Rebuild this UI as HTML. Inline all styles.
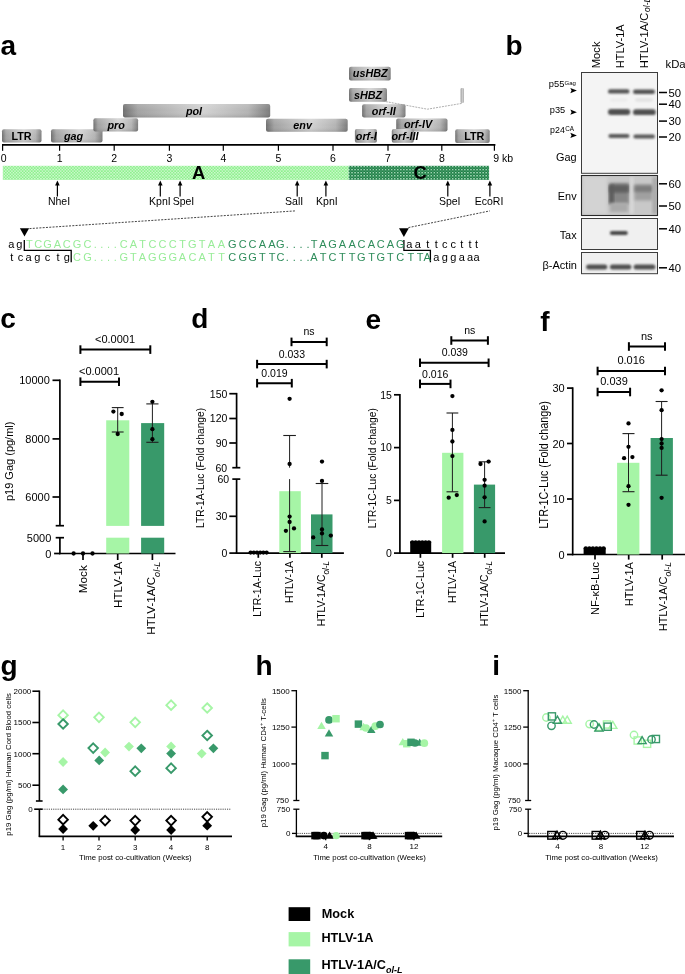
<!DOCTYPE html><html><head><meta charset="utf-8"><style>html,body{margin:0;padding:0;background:#fff;}svg{display:block;will-change:transform;}text{font-family:"Liberation Sans",sans-serif;}</style></head><body>
<svg width="685" height="974" viewBox="0 0 685 974">
<defs>
<linearGradient id="gb" x1="0" y1="0" x2="1" y2="0">
<stop offset="0" stop-color="#6f6f6f"/><stop offset="0.1" stop-color="#a2a2a2"/><stop offset="0.55" stop-color="#d2d2d2"/><stop offset="0.85" stop-color="#b4b4b4"/><stop offset="1" stop-color="#7c7c7c"/>
</linearGradient>
<linearGradient id="gv" x1="0" y1="0" x2="0" y2="1">
<stop offset="0" stop-color="#fff" stop-opacity="0.15"/><stop offset="0.5" stop-color="#fff" stop-opacity="0"/><stop offset="1" stop-color="#000" stop-opacity="0.12"/>
</linearGradient>
<pattern id="plg" width="3.05" height="3.05" patternUnits="userSpaceOnUse" x="0.5" y="165.8">
<rect width="3.05" height="3.05" fill="#8ef08e"/><rect x="0" y="0" width="1.525" height="1.525" fill="#cdf9cd"/><rect x="1.525" y="1.525" width="1.525" height="1.525" fill="#c2f7c2"/>
</pattern>
<pattern id="pdg" width="3.05" height="3.05" patternUnits="userSpaceOnUse" x="0.5" y="165.8">
<rect width="3.05" height="3.05" fill="#1f8046"/><rect x="0" y="0" width="1.525" height="1.525" fill="#9ed3b2"/><rect x="1.525" y="1.525" width="1.525" height="1.525" fill="#3f9463"/>
</pattern>
<filter id="bl" x="-20%" y="-80%" width="140%" height="260%"><feGaussianBlur stdDeviation="0.85"/></filter>
<filter id="bl2" x="-20%" y="-50%" width="140%" height="200%"><feGaussianBlur stdDeviation="1.6"/></filter>
</defs>
<text x="0.6" y="55" font-size="28" font-weight="bold">a</text>
<text x="505.5" y="54.5" font-size="28" font-weight="bold">b</text>
<text x="0.3" y="328.2" font-size="28" font-weight="bold">c</text>
<text x="191.2" y="328" font-size="28" font-weight="bold">d</text>
<text x="365.6" y="329.3" font-size="28" font-weight="bold">e</text>
<text x="540.2" y="330.8" font-size="28" font-weight="bold">f</text>
<text x="0.5" y="675" font-size="28" font-weight="bold">g</text>
<text x="255.5" y="675" font-size="28" font-weight="bold">h</text>
<text x="492.3" y="675" font-size="28" font-weight="bold">i</text>
<g>
<rect x="2" y="129.2" width="39.5" height="13.4" rx="2" fill="url(#gb)"/>
<rect x="2" y="129.2" width="39.5" height="13.4" rx="2" fill="url(#gv)"/>
<rect x="51" y="129.2" width="51.5" height="13.4" rx="2" fill="url(#gb)"/>
<rect x="51" y="129.2" width="51.5" height="13.4" rx="2" fill="url(#gv)"/>
<rect x="93.4" y="118.3" width="44.7" height="13.1" rx="2" fill="url(#gb)"/>
<rect x="93.4" y="118.3" width="44.7" height="13.1" rx="2" fill="url(#gv)"/>
<rect x="123" y="104" width="147.2" height="13.5" rx="2" fill="url(#gb)"/>
<rect x="123" y="104" width="147.2" height="13.5" rx="2" fill="url(#gv)"/>
<rect x="266" y="118.8" width="81.7" height="13.0" rx="2" fill="url(#gb)"/>
<rect x="266" y="118.8" width="81.7" height="13.0" rx="2" fill="url(#gv)"/>
<rect x="349" y="66.7" width="41.7" height="13.9" rx="2" fill="url(#gb)"/>
<rect x="349" y="66.7" width="41.7" height="13.9" rx="2" fill="url(#gv)"/>
<rect x="349" y="88.1" width="38" height="13.7" rx="2" fill="url(#gb)"/>
<rect x="349" y="88.1" width="38" height="13.7" rx="2" fill="url(#gv)"/>
<rect x="362.1" y="104.2" width="43.4" height="13.3" rx="2" fill="url(#gb)"/>
<rect x="362.1" y="104.2" width="43.4" height="13.3" rx="2" fill="url(#gv)"/>
<rect x="396.2" y="118.6" width="51.3" height="12.9" rx="2" fill="url(#gb)"/>
<rect x="396.2" y="118.6" width="51.3" height="12.9" rx="2" fill="url(#gv)"/>
<rect x="354.9" y="129" width="22.0" height="13.7" rx="2" fill="url(#gb)"/>
<rect x="354.9" y="129" width="22.0" height="13.7" rx="2" fill="url(#gv)"/>
<rect x="391.8" y="129" width="22.0" height="13.7" rx="2" fill="url(#gb)"/>
<rect x="391.8" y="129" width="22.0" height="13.7" rx="2" fill="url(#gv)"/>
<rect x="455.2" y="129.3" width="34.5" height="13.7" rx="2" fill="url(#gb)"/>
<rect x="455.2" y="129.3" width="34.5" height="13.7" rx="2" fill="url(#gv)"/>
<text x="21.5" y="140" font-size="10.8" font-weight="bold" text-anchor="middle">LTR</text>
<text x="73.5" y="139.6" font-size="10.8" font-weight="bold" font-style="italic" text-anchor="middle">gag</text>
<text x="116.2" y="128.6" font-size="10.8" font-weight="bold" font-style="italic" text-anchor="middle">pro</text>
<text x="194" y="114.5" font-size="10.8" font-weight="bold" font-style="italic" text-anchor="middle">pol</text>
<text x="302.6" y="128.9" font-size="10.8" font-weight="bold" font-style="italic" text-anchor="middle">env</text>
<text x="370.2" y="77.3" font-size="10.8" font-weight="bold" font-style="italic" text-anchor="middle">usHBZ</text>
<text x="368" y="99.2" font-size="10.8" font-weight="bold" font-style="italic" text-anchor="middle">sHBZ</text>
<text x="383.8" y="114.6" font-size="10.8" font-weight="bold" font-style="italic" text-anchor="middle">orf-II</text>
<text x="418" y="128.3" font-size="10.8" font-weight="bold" font-style="italic" text-anchor="middle">orf-IV</text>
<text x="366.3" y="139.5" font-size="10.8" font-weight="bold" font-style="italic" text-anchor="middle">orf-I</text>
<text x="405" y="139.5" font-size="10.8" font-weight="bold" font-style="italic" text-anchor="middle">orf-III</text>
<text x="474.3" y="139.7" font-size="10.8" font-weight="bold" text-anchor="middle">LTR</text>
<rect x="460.7" y="88" width="2.9" height="15" rx="1" fill="url(#gb)"/>
<polyline points="385.8,101.6 427.4,109.2 461.8,103.4" fill="none" stroke="#9a9a9a" stroke-width="0.8" stroke-dasharray="2 1"/>
</g>
<line x1="2" y1="144.8" x2="495.4" y2="144.8" stroke="#000" stroke-width="1.8"/>
<line x1="2.6" y1="144.8" x2="2.6" y2="150.8" stroke="#000" stroke-width="1.2"/>
<text x="3.6" y="161.7" font-size="10.5" text-anchor="middle">0</text>
<line x1="59.6" y1="144.8" x2="59.6" y2="150.8" stroke="#000" stroke-width="1.2"/>
<text x="59.6" y="161.7" font-size="10.5" text-anchor="middle">1</text>
<line x1="114.2" y1="144.8" x2="114.2" y2="150.8" stroke="#000" stroke-width="1.2"/>
<text x="114.2" y="161.7" font-size="10.5" text-anchor="middle">2</text>
<line x1="169.4" y1="144.8" x2="169.4" y2="150.8" stroke="#000" stroke-width="1.2"/>
<text x="169.4" y="161.7" font-size="10.5" text-anchor="middle">3</text>
<line x1="223.3" y1="144.8" x2="223.3" y2="150.8" stroke="#000" stroke-width="1.2"/>
<text x="223.3" y="161.7" font-size="10.5" text-anchor="middle">4</text>
<line x1="278.4" y1="144.8" x2="278.4" y2="150.8" stroke="#000" stroke-width="1.2"/>
<text x="278.4" y="161.7" font-size="10.5" text-anchor="middle">5</text>
<line x1="333" y1="144.8" x2="333" y2="150.8" stroke="#000" stroke-width="1.2"/>
<text x="333" y="161.7" font-size="10.5" text-anchor="middle">6</text>
<line x1="388" y1="144.8" x2="388" y2="150.8" stroke="#000" stroke-width="1.2"/>
<text x="388" y="161.7" font-size="10.5" text-anchor="middle">7</text>
<line x1="441.8" y1="144.8" x2="441.8" y2="150.8" stroke="#000" stroke-width="1.2"/>
<text x="441.8" y="161.7" font-size="10.5" text-anchor="middle">8</text>
<line x1="494.4" y1="144.8" x2="494.4" y2="150.8" stroke="#000" stroke-width="1.2"/>
<text x="493.3" y="161.7" font-size="10.5">9 kb</text>
<rect x="2.8" y="165.8" width="345.9" height="14.1" fill="url(#plg)"/>
<rect x="348.7" y="165.8" width="140.4" height="14.1" fill="url(#pdg)"/>
<text x="198.7" y="179.3" font-size="18.4" font-weight="bold" text-anchor="middle">A</text>
<text x="420.2" y="179.2" font-size="18.4" font-weight="bold" text-anchor="middle">C</text>
<line x1="57.4" y1="184" x2="57.4" y2="196.5" stroke="#000" stroke-width="1.2"/>
<path d="M57.4,180.6 L55.1,185.4 L59.699999999999996,185.4 Z" fill="#000"/>
<text x="59" y="204.9" font-size="10.5" text-anchor="middle">NheI</text>
<line x1="160.3" y1="184" x2="160.3" y2="196.5" stroke="#000" stroke-width="1.2"/>
<path d="M160.3,180.6 L158.0,185.4 L162.60000000000002,185.4 Z" fill="#000"/>
<text x="159.9" y="204.9" font-size="10.5" text-anchor="middle">KpnI</text>
<line x1="180.1" y1="184" x2="180.1" y2="196.5" stroke="#000" stroke-width="1.2"/>
<path d="M180.1,180.6 L177.79999999999998,185.4 L182.4,185.4 Z" fill="#000"/>
<text x="183.5" y="204.9" font-size="10.5" text-anchor="middle">SpeI</text>
<line x1="297.2" y1="184" x2="297.2" y2="196.5" stroke="#000" stroke-width="1.2"/>
<path d="M297.2,180.6 L294.9,185.4 L299.5,185.4 Z" fill="#000"/>
<text x="294.1" y="204.9" font-size="10.5" text-anchor="middle">SalI</text>
<line x1="325.9" y1="184" x2="325.9" y2="196.5" stroke="#000" stroke-width="1.2"/>
<path d="M325.9,180.6 L323.59999999999997,185.4 L328.2,185.4 Z" fill="#000"/>
<text x="326.9" y="204.9" font-size="10.5" text-anchor="middle">KpnI</text>
<line x1="447.8" y1="184" x2="447.8" y2="196.5" stroke="#000" stroke-width="1.2"/>
<path d="M447.8,180.6 L445.5,185.4 L450.1,185.4 Z" fill="#000"/>
<text x="449.7" y="204.9" font-size="10.5" text-anchor="middle">SpeI</text>
<line x1="489.9" y1="184" x2="489.9" y2="196.5" stroke="#000" stroke-width="1.2"/>
<path d="M489.9,180.6 L487.59999999999997,185.4 L492.2,185.4 Z" fill="#000"/>
<text x="489" y="204.9" font-size="10.5" text-anchor="middle">EcoRI</text>
<line x1="29.5" y1="228.6" x2="295.2" y2="210.9" stroke="#222" stroke-width="0.85" stroke-dasharray="2 1.3"/>
<line x1="408.4" y1="227.6" x2="489.9" y2="210.9" stroke="#222" stroke-width="0.85" stroke-dasharray="2 1.3"/>
<path d="M19.9,228.2 L29.1,228.2 L24.5,236.5 Z" fill="#000"/>
<path d="M399,228.2 L408.8,228.2 L403.9,236.9 Z" fill="#000"/>
<polyline points="24.3,240 24.3,250.4 71.2,250.4 71.2,262.2" fill="none" stroke="#000" stroke-width="1.3"/>
<polyline points="403.9,240 403.9,250.3 430.4,250.3 430.4,262.2" fill="none" stroke="#000" stroke-width="1.3"/>
<text x="11.2 19.4" y="247.8" font-size="11" text-anchor="middle" fill="#000">ag</text><text x="29.4 38.3 47.5 57.5 66.8 77.1 87.5 95.3 101.9 108.5 115.2 123.7 133.4 142.5 152.4 162.5 172.8 182.5 192.4 202.1 211.4 221.5" y="247.8" font-size="11" text-anchor="middle" fill="#98ec98">TCGACGC....CATCCCTGTAA</text><text x="232.2 242.8 252.6 262.4 272.0 280.4 287.2 294.2 301.1 308.1 314.0 323.0 332.5 342.4 352.1 361.4 371.5 380.7 390.4 400.2" y="247.8" font-size="11" text-anchor="middle" fill="#2f8d5b">GCCAAG....TAGAACACAG</text><text x="409.3 417.8 427.9 436.3 444.8 453.2 461.7 470.0 476.5" y="247.8" font-size="11" text-anchor="middle" fill="#000">aattccttt</text>
<text x="11.8 20.4 28.6 37.3 47.5 58.0 66.8" y="261.4" font-size="11" text-anchor="middle" fill="#000">tcagctg</text><text x="77.1 87.5 95.3 101.9 108.5 115.2 123.7 133.4 142.5 152.4 162.5 172.8 182.5 192.4 202.1 211.4 221.5" y="261.4" font-size="11" text-anchor="middle" fill="#98ec98">CG....GTAGGGACATT</text><text x="232.2 242.8 252.6 262.4 272.0 280.4 287.2 294.2 301.1 308.1 314.0 323.0 332.5 342.4 352.1 361.4 371.5 380.7 390.4 400.2 410.8 420.0 427.2" y="261.4" font-size="11" text-anchor="middle" fill="#2f8d5b">CGGTTC....ATCTTGTGTCTTA</text><text x="436.3 444.8 453.2 461.7 470.0 476.5" y="261.4" font-size="11" text-anchor="middle" fill="#000">aggaaa</text>
<text transform="translate(599.6,68.2) rotate(-90)" font-size="11.2">Mock</text>
<text transform="translate(623.7,68.2) rotate(-90)" font-size="11.0">HTLV-1A</text>
<text transform="translate(647.9,68.2) rotate(-90)" font-size="11.15">HTLV-1A/C<tspan font-size="8.4" font-style="italic" dx="0.8" dy="1.6">ol-L</tspan></text>
<text x="665.5" y="68.2" font-size="11.3">kDa</text>
<rect x="581.5" y="72.5" width="76" height="100.8" fill="#f4f4f4" stroke="#3c3c3c" stroke-width="1"/>
<rect x="581.5" y="175.5" width="76" height="40" fill="#c8c8c8"/>
<rect x="581.5" y="218.5" width="76" height="31" fill="#f0f0f0" stroke="#3c3c3c" stroke-width="1"/>
<rect x="581.5" y="252.5" width="76" height="21.2" fill="#efefef" stroke="#3c3c3c" stroke-width="1"/>
<g>
<rect x="608" y="89.2" width="21.5" height="4.4" rx="2.2" fill="#525252" filter="url(#bl)"/>
<rect x="610" y="98.35" width="17.5" height="3.5" rx="1.75" fill="#ebebeb" filter="url(#bl)"/>
<rect x="608" y="109.1" width="22.3" height="5.8" rx="2.9" fill="#505050" filter="url(#bl)"/>
<rect x="608.4" y="134.1" width="21.1" height="4.0" rx="2.0" fill="#585858" filter="url(#bl)"/>
<rect x="633" y="89.6" width="22" height="4.4" rx="2.2" fill="#525252" filter="url(#bl)"/>
<rect x="635" y="98.35" width="18" height="3.5" rx="1.75" fill="#e2e2e2" filter="url(#bl)"/>
<rect x="633" y="109.3" width="22.8" height="5.8" rx="2.9" fill="#505050" filter="url(#bl)"/>
<rect x="633.4" y="134.5" width="21.6" height="4.0" rx="2.0" fill="#585858" filter="url(#bl)"/>
<rect x="583" y="177" width="24" height="37" fill="#d3d3d3" filter="url(#bl2)"/>
<rect x="609.5" y="183" width="19.5" height="21" fill="#868686" filter="url(#bl2)"/>
<rect x="609.5" y="185" width="19.5" height="7.5" fill="#5e5e5e" filter="url(#bl2)"/>
<rect x="609" y="185" width="5" height="19" fill="#5c5c5c" filter="url(#bl2)"/>
<rect x="610" y="203" width="18" height="9" fill="#aaaaaa" filter="url(#bl2)"/>
<rect x="630" y="177" width="3.5" height="37" fill="#dadada" filter="url(#bl2)"/>
<rect x="634.5" y="184.5" width="18" height="16" fill="#a0a0a0" filter="url(#bl2)"/>
<rect x="634.5" y="185.5" width="18" height="6.5" fill="#7c7c7c" filter="url(#bl2)"/>
<rect x="652.5" y="177" width="4.5" height="37" fill="#a8a8a8" filter="url(#bl2)"/>
<rect x="609.9" y="231.1" width="17.9" height="4" rx="2.0" fill="#444" filter="url(#bl)"/>
<rect x="586.1" y="264.5" width="21.2" height="5" rx="2.5" fill="#505050" filter="url(#bl)"/>
<rect x="609.9" y="264.5" width="21.5" height="5" rx="2.5" fill="#505050" filter="url(#bl)"/>
<rect x="633.6" y="264.5" width="21.8" height="5" rx="2.5" fill="#505050" filter="url(#bl)"/>
</g>
<rect x="581.5" y="175.5" width="76" height="40" fill="none" stroke="#2a2a2a" stroke-width="1.1"/>
<line x1="659" y1="92.5" x2="667" y2="92.5" stroke="#000" stroke-width="1.5"/>
<text x="668.5" y="96.6" font-size="11.3">50</text>
<line x1="659" y1="104.2" x2="667" y2="104.2" stroke="#000" stroke-width="1.5"/>
<text x="668.5" y="108.3" font-size="11.3">40</text>
<line x1="659" y1="121.1" x2="667" y2="121.1" stroke="#000" stroke-width="1.5"/>
<text x="668.5" y="125.19999999999999" font-size="11.3">30</text>
<line x1="659" y1="137" x2="667" y2="137" stroke="#000" stroke-width="1.5"/>
<text x="668.5" y="141.1" font-size="11.3">20</text>
<line x1="659" y1="183.8" x2="667" y2="183.8" stroke="#000" stroke-width="1.5"/>
<text x="668.5" y="187.9" font-size="11.3">60</text>
<line x1="659" y1="206" x2="667" y2="206" stroke="#000" stroke-width="1.5"/>
<text x="668.5" y="210.1" font-size="11.3">50</text>
<line x1="659" y1="228.8" x2="667" y2="228.8" stroke="#000" stroke-width="1.5"/>
<text x="668.5" y="232.9" font-size="11.3">40</text>
<line x1="659" y1="267.8" x2="667" y2="267.8" stroke="#000" stroke-width="1.5"/>
<text x="668.5" y="271.90000000000003" font-size="11.3">40</text>
<text x="548.8" y="87.4" font-size="8.6" textLength="15.5" lengthAdjust="spacingAndGlyphs">p55</text>
<text x="564.5" y="84.5" font-size="6.2" textLength="11.4" lengthAdjust="spacingAndGlyphs">Gag</text>
<text x="549.8" y="112.6" font-size="8.8" textLength="15.4" lengthAdjust="spacingAndGlyphs">p35</text>
<text x="550.1" y="133.4" font-size="8.8" textLength="14.7" lengthAdjust="spacingAndGlyphs">p24</text>
<text x="565.3" y="130.5" font-size="6.6" textLength="8.8" lengthAdjust="spacingAndGlyphs">CA</text>
<path d="M570.3,88.0 L576.9,90.6 L570.3,93.19999999999999 L571.6,90.6 Z" fill="#000"/>
<path d="M570.3,109.60000000000001 L576.9,112.2 L570.3,114.8 L571.6,112.2 Z" fill="#000"/>
<path d="M570.3,132.8 L576.9,135.4 L570.3,138.0 L571.6,135.4 Z" fill="#000"/>
<text x="576.6" y="161.3" font-size="10.9" text-anchor="end">Gag</text>
<text x="576.6" y="200.3" font-size="10.9" text-anchor="end">Env</text>
<text x="576.6" y="238.8" font-size="10.9" text-anchor="end">Tax</text>
<text x="577" y="269" font-size="11.0" text-anchor="end">β-Actin</text>
<g id="pc">
<line x1="59.9" y1="379.4" x2="59.9" y2="525.9" stroke="#000" stroke-width="1.7"/>
<line x1="59.9" y1="537.7" x2="59.9" y2="554.3" stroke="#000" stroke-width="1.7"/>
<line x1="59.0" y1="553.5" x2="175.5" y2="553.5" stroke="#000" stroke-width="1.7"/>
<line x1="52.5" y1="380.3" x2="59.9" y2="380.3" stroke="#000" stroke-width="1.7"/>
<line x1="52.5" y1="438.9" x2="59.9" y2="438.9" stroke="#000" stroke-width="1.7"/>
<line x1="52.5" y1="497.0" x2="59.9" y2="497.0" stroke="#000" stroke-width="1.7"/>
<line x1="54.1" y1="553.5" x2="59.9" y2="553.5" stroke="#000" stroke-width="1.7"/>
<line x1="55.7" y1="525.7" x2="64" y2="525.7" stroke="#000" stroke-width="1.7"/>
<line x1="55.7" y1="537.7" x2="64" y2="537.7" stroke="#000" stroke-width="1.7"/>
<text x="49.8" y="384.3" font-size="11" text-anchor="end">10000</text>
<text x="49.8" y="442.9" font-size="11" text-anchor="end">8000</text>
<text x="49.8" y="501.0" font-size="11" text-anchor="end">6000</text>
<text x="51.3" y="541.7" font-size="11" text-anchor="end">5000</text>
<text x="51.4" y="557.5" font-size="11" text-anchor="end">0</text>
<text transform="translate(12.6,461.3) rotate(-90)" font-size="11.8" text-anchor="middle" textLength="79.5" lengthAdjust="spacingAndGlyphs">p19 Gag (pg/ml)</text>
<line x1="83.0" y1="553.5" x2="83.0" y2="560" stroke="#000" stroke-width="1.7"/>
<line x1="117.7" y1="553.5" x2="117.7" y2="560" stroke="#000" stroke-width="1.7"/>
<line x1="152.4" y1="553.5" x2="152.4" y2="560" stroke="#000" stroke-width="1.7"/>
<rect x="106.2" y="420.3" width="23.1" height="105.6" fill="#a6f5a6"/>
<rect x="106.2" y="537.7" width="23.1" height="15.8" fill="#a6f5a6"/>
<rect x="141.1" y="423.1" width="23.1" height="102.8" fill="#38996a"/>
<rect x="141.1" y="537.7" width="23.1" height="15.8" fill="#38996a"/>
<line x1="117.7" y1="407.6" x2="117.7" y2="432.0" stroke="#1e1e1e" stroke-width="1.0"/><line x1="111.8" y1="407.6" x2="123.60000000000001" y2="407.6" stroke="#1e1e1e" stroke-width="1.1"/><line x1="111.8" y1="432.0" x2="123.60000000000001" y2="432.0" stroke="#1e1e1e" stroke-width="1.1"/>
<line x1="152.4" y1="403.9" x2="152.4" y2="442.3" stroke="#1e1e1e" stroke-width="1.0"/><line x1="146.3" y1="403.9" x2="158.5" y2="403.9" stroke="#1e1e1e" stroke-width="1.1"/><line x1="146.3" y1="442.3" x2="158.5" y2="442.3" stroke="#1e1e1e" stroke-width="1.1"/>
<circle cx="113.4" cy="411.6" r="2.15" fill="#000"/>
<circle cx="121.7" cy="414.0" r="2.15" fill="#000"/>
<circle cx="117.7" cy="434.0" r="2.15" fill="#000"/>
<circle cx="152.4" cy="401.8" r="2.15" fill="#000"/>
<circle cx="152.4" cy="429.2" r="2.15" fill="#000"/>
<circle cx="152.4" cy="439.2" r="2.15" fill="#000"/>
<circle cx="73.6" cy="553.5" r="2.15" fill="#000"/>
<circle cx="83.0" cy="553.5" r="2.15" fill="#000"/>
<circle cx="92.5" cy="553.5" r="2.15" fill="#000"/>
<line x1="80.4" y1="349.6" x2="150.3" y2="349.6" stroke="#000" stroke-width="2.0"/><line x1="80.4" y1="345.3" x2="80.4" y2="353.90000000000003" stroke="#000" stroke-width="2.0"/><line x1="150.3" y1="345.3" x2="150.3" y2="353.90000000000003" stroke="#000" stroke-width="2.0"/>
<line x1="80.4" y1="381.7" x2="119.0" y2="381.7" stroke="#000" stroke-width="2.0"/><line x1="80.4" y1="377.4" x2="80.4" y2="386.0" stroke="#000" stroke-width="2.0"/><line x1="119.0" y1="377.4" x2="119.0" y2="386.0" stroke="#000" stroke-width="2.0"/>
<text x="115.0" y="342.5" font-size="11" text-anchor="middle">&lt;0.0001</text>
<text x="99.0" y="374.6" font-size="11" text-anchor="middle">&lt;0.0001</text>
<text transform="translate(87.2,565.1) rotate(-90)" font-size="11.8" text-anchor="end">Mock</text>
<text transform="translate(121.9,561.6) rotate(-90)" font-size="11.65" text-anchor="end">HTLV-1A</text>
<text transform="translate(155.4,561.6) rotate(-90)" font-size="11.6" text-anchor="end">HTLV-1A/C<tspan font-size="9.2" font-style="italic" dy="4.2">ol-L</tspan></text>
</g>
<g id="pd">
<line x1="236.6" y1="392.9" x2="236.6" y2="467.7" stroke="#000" stroke-width="1.7"/>
<line x1="236.6" y1="479.1" x2="236.6" y2="553.9" stroke="#000" stroke-width="1.7"/>
<line x1="235.8" y1="553.1" x2="343.9" y2="553.1" stroke="#000" stroke-width="1.7"/>
<line x1="229.3" y1="393.7" x2="236.6" y2="393.7" stroke="#000" stroke-width="1.7"/>
<line x1="229.3" y1="418.5" x2="236.6" y2="418.5" stroke="#000" stroke-width="1.7"/>
<line x1="229.3" y1="443.0" x2="236.6" y2="443.0" stroke="#000" stroke-width="1.7"/>
<line x1="229.3" y1="516.3" x2="236.6" y2="516.3" stroke="#000" stroke-width="1.7"/>
<line x1="229.3" y1="553.1" x2="236.6" y2="553.1" stroke="#000" stroke-width="1.7"/>
<line x1="232.3" y1="467.7" x2="240.3" y2="467.7" stroke="#000" stroke-width="1.7"/>
<line x1="232.3" y1="479.1" x2="240.3" y2="479.1" stroke="#000" stroke-width="1.7"/>
<text x="227.4" y="397.5" font-size="10.5" text-anchor="end">150</text>
<text x="227.4" y="422.3" font-size="10.5" text-anchor="end">120</text>
<text x="227.4" y="446.8" font-size="10.5" text-anchor="end">90</text>
<text x="227.2" y="471.5" font-size="10.5" text-anchor="end">60</text>
<text x="229.2" y="482.90000000000003" font-size="10.5" text-anchor="end">60</text>
<text x="227.4" y="520.0999999999999" font-size="10.5" text-anchor="end">30</text>
<text x="227.4" y="556.9" font-size="10.5" text-anchor="end">0</text>
<text transform="translate(204.3,467.9) rotate(-90)" font-size="11.2" text-anchor="middle" textLength="120" lengthAdjust="spacingAndGlyphs">LTR-1A-Luc (Fold change)</text>
<line x1="258.3" y1="553.1" x2="258.3" y2="557.8" stroke="#000" stroke-width="1.7"/>
<line x1="289.9" y1="553.1" x2="289.9" y2="557.8" stroke="#000" stroke-width="1.7"/>
<line x1="321.8" y1="553.1" x2="321.8" y2="557.8" stroke="#000" stroke-width="1.7"/>
<rect x="279.3" y="491.2" width="21.5" height="61.9" fill="#a6f5a6"/>
<rect x="311.0" y="514.4" width="21.5" height="38.7" fill="#38996a"/>
<line x1="289.6" y1="435.5" x2="289.6" y2="467.7" stroke="#1e1e1e" stroke-width="1.0"/>
<line x1="289.6" y1="479.1" x2="289.6" y2="551.6" stroke="#1e1e1e" stroke-width="1.0"/>
<line x1="283.3" y1="435.5" x2="295.9" y2="435.5" stroke="#1e1e1e" stroke-width="1.1"/>
<line x1="283.3" y1="551.6" x2="295.9" y2="551.6" stroke="#1e1e1e" stroke-width="1.1"/>
<line x1="322.0" y1="483.5" x2="322.0" y2="545.5" stroke="#1e1e1e" stroke-width="1.0"/><line x1="315.7" y1="483.5" x2="328.3" y2="483.5" stroke="#1e1e1e" stroke-width="1.1"/><line x1="315.7" y1="545.5" x2="328.3" y2="545.5" stroke="#1e1e1e" stroke-width="1.1"/>
<circle cx="289.6" cy="398.8" r="2.15" fill="#000"/>
<circle cx="289.6" cy="464.0" r="2.15" fill="#000"/>
<circle cx="289.6" cy="516.6" r="2.15" fill="#000"/>
<circle cx="289.6" cy="522.0" r="2.15" fill="#000"/>
<circle cx="285.9" cy="530.8" r="2.15" fill="#000"/>
<circle cx="294.0" cy="528.4" r="2.15" fill="#000"/>
<circle cx="322.0" cy="461.6" r="2.15" fill="#000"/>
<circle cx="322.0" cy="480.9" r="2.15" fill="#000"/>
<circle cx="322.0" cy="529.5" r="2.15" fill="#000"/>
<circle cx="322.0" cy="533.4" r="2.15" fill="#000"/>
<circle cx="313.2" cy="537.4" r="2.15" fill="#000"/>
<circle cx="330.8" cy="535.6" r="2.15" fill="#000"/>
<circle cx="250.6" cy="552.6" r="2.15" fill="#000"/>
<circle cx="253.79999999999998" cy="552.6" r="2.15" fill="#000"/>
<circle cx="257.0" cy="552.6" r="2.15" fill="#000"/>
<circle cx="260.2" cy="552.6" r="2.15" fill="#000"/>
<circle cx="263.4" cy="552.6" r="2.15" fill="#000"/>
<circle cx="266.6" cy="552.6" r="2.15" fill="#000"/>
<line x1="257.1" y1="383.2" x2="291.8" y2="383.2" stroke="#000" stroke-width="2.0"/><line x1="257.1" y1="378.9" x2="257.1" y2="387.5" stroke="#000" stroke-width="2.0"/><line x1="291.8" y1="378.9" x2="291.8" y2="387.5" stroke="#000" stroke-width="2.0"/>
<line x1="257.1" y1="364.1" x2="326.7" y2="364.1" stroke="#000" stroke-width="2.0"/><line x1="257.1" y1="359.8" x2="257.1" y2="368.40000000000003" stroke="#000" stroke-width="2.0"/><line x1="326.7" y1="359.8" x2="326.7" y2="368.40000000000003" stroke="#000" stroke-width="2.0"/>
<line x1="291.5" y1="341.9" x2="326.7" y2="341.9" stroke="#000" stroke-width="2.0"/><line x1="291.5" y1="337.59999999999997" x2="291.5" y2="346.2" stroke="#000" stroke-width="2.0"/><line x1="326.7" y1="337.59999999999997" x2="326.7" y2="346.2" stroke="#000" stroke-width="2.0"/>
<text x="274.5" y="376.6" font-size="10.5" text-anchor="middle">0.019</text>
<text x="291.9" y="357.7" font-size="10.5" text-anchor="middle">0.033</text>
<text x="309.0" y="334.7" font-size="10.5" text-anchor="middle">ns</text>
<text transform="translate(261.3,560.9) rotate(-90)" font-size="10.5" text-anchor="end">LTR-1A-Luc</text>
<text transform="translate(293.1,560.9) rotate(-90)" font-size="10.6" text-anchor="end">HTLV-1A</text>
<text transform="translate(325.4,560.9) rotate(-90)" font-size="10.4" text-anchor="end">HTLV-1A/C<tspan font-size="8.2" font-style="italic" dy="3.7">ol-L</tspan></text>
</g>
<g id="pe">
<line x1="399.9" y1="394.0" x2="399.9" y2="553.9" stroke="#000" stroke-width="1.7"/>
<line x1="399.1" y1="553.1" x2="505.0" y2="553.1" stroke="#000" stroke-width="1.7"/>
<line x1="394.0" y1="394.8" x2="399.9" y2="394.8" stroke="#000" stroke-width="1.7"/>
<text x="391.9" y="398.6" font-size="10.5" text-anchor="end">15</text>
<line x1="394.0" y1="447.6" x2="399.9" y2="447.6" stroke="#000" stroke-width="1.7"/>
<text x="391.9" y="451.40000000000003" font-size="10.5" text-anchor="end">10</text>
<line x1="394.0" y1="500.4" x2="399.9" y2="500.4" stroke="#000" stroke-width="1.7"/>
<text x="391.9" y="504.2" font-size="10.5" text-anchor="end">5</text>
<line x1="394.0" y1="553.1" x2="399.9" y2="553.1" stroke="#000" stroke-width="1.7"/>
<text x="391.9" y="556.9" font-size="10.5" text-anchor="end">0</text>
<text transform="translate(376.0,468.2) rotate(-90)" font-size="11.3" text-anchor="middle" textLength="120" lengthAdjust="spacingAndGlyphs">LTR-1C-Luc (Fold change)</text>
<line x1="420.4" y1="553.1" x2="420.4" y2="557.8" stroke="#000" stroke-width="1.7"/>
<line x1="452.6" y1="553.1" x2="452.6" y2="557.8" stroke="#000" stroke-width="1.7"/>
<line x1="484.7" y1="553.1" x2="484.7" y2="557.8" stroke="#000" stroke-width="1.7"/>
<rect x="410.2" y="541.3" width="21.0" height="11.8" fill="#000"/>
<rect x="442.1" y="452.8" width="21.3" height="100.3" fill="#a6f5a6"/>
<rect x="473.9" y="484.6" width="21.2" height="68.5" fill="#38996a"/>
<line x1="452.4" y1="413.0" x2="452.4" y2="491.8" stroke="#1e1e1e" stroke-width="1.0"/><line x1="446.5" y1="413.0" x2="458.29999999999995" y2="413.0" stroke="#1e1e1e" stroke-width="1.1"/><line x1="446.5" y1="491.8" x2="458.29999999999995" y2="491.8" stroke="#1e1e1e" stroke-width="1.1"/>
<line x1="484.6" y1="461.8" x2="484.6" y2="507.6" stroke="#1e1e1e" stroke-width="1.0"/><line x1="478.70000000000005" y1="461.8" x2="490.5" y2="461.8" stroke="#1e1e1e" stroke-width="1.1"/><line x1="478.70000000000005" y1="507.6" x2="490.5" y2="507.6" stroke="#1e1e1e" stroke-width="1.1"/>
<circle cx="452.4" cy="396.1" r="2.15" fill="#000"/>
<circle cx="452.4" cy="429.9" r="2.15" fill="#000"/>
<circle cx="452.4" cy="441.5" r="2.15" fill="#000"/>
<circle cx="452.4" cy="456.1" r="2.15" fill="#000"/>
<circle cx="448.7" cy="497.7" r="2.15" fill="#000"/>
<circle cx="456.8" cy="495.1" r="2.15" fill="#000"/>
<circle cx="480.5" cy="464.0" r="2.15" fill="#000"/>
<circle cx="488.6" cy="461.6" r="2.15" fill="#000"/>
<circle cx="484.6" cy="479.8" r="2.15" fill="#000"/>
<circle cx="484.6" cy="485.7" r="2.15" fill="#000"/>
<circle cx="484.6" cy="497.3" r="2.15" fill="#000"/>
<circle cx="484.6" cy="521.4" r="2.15" fill="#000"/>
<circle cx="412.4" cy="542.3" r="2.15" fill="#000"/>
<circle cx="415.7" cy="542.3" r="2.15" fill="#000"/>
<circle cx="419.0" cy="542.3" r="2.15" fill="#000"/>
<circle cx="422.29999999999995" cy="542.3" r="2.15" fill="#000"/>
<circle cx="425.59999999999997" cy="542.3" r="2.15" fill="#000"/>
<circle cx="428.9" cy="542.3" r="2.15" fill="#000"/>
<line x1="420.0" y1="383.9" x2="450.5" y2="383.9" stroke="#000" stroke-width="2.0"/><line x1="420.0" y1="379.59999999999997" x2="420.0" y2="388.2" stroke="#000" stroke-width="2.0"/><line x1="450.5" y1="379.59999999999997" x2="450.5" y2="388.2" stroke="#000" stroke-width="2.0"/>
<line x1="420.0" y1="362.8" x2="488.6" y2="362.8" stroke="#000" stroke-width="2.0"/><line x1="420.0" y1="358.5" x2="420.0" y2="367.1" stroke="#000" stroke-width="2.0"/><line x1="488.6" y1="358.5" x2="488.6" y2="367.1" stroke="#000" stroke-width="2.0"/>
<line x1="451.3" y1="340.5" x2="487.9" y2="340.5" stroke="#000" stroke-width="2.0"/><line x1="451.3" y1="336.2" x2="451.3" y2="344.8" stroke="#000" stroke-width="2.0"/><line x1="487.9" y1="336.2" x2="487.9" y2="344.8" stroke="#000" stroke-width="2.0"/>
<text x="435.2" y="378.1" font-size="10.5" text-anchor="middle">0.016</text>
<text x="454.8" y="356.2" font-size="10.5" text-anchor="middle">0.039</text>
<text x="469.7" y="333.9" font-size="10.5" text-anchor="middle">ns</text>
<text transform="translate(423.8,560.9) rotate(-90)" font-size="10.6" text-anchor="end">LTR-1C-Luc</text>
<text transform="translate(455.9,560.9) rotate(-90)" font-size="10.6" text-anchor="end">HTLV-1A</text>
<text transform="translate(488.0,560.9) rotate(-90)" font-size="10.4" text-anchor="end">HTLV-1A/C<tspan font-size="8.2" font-style="italic" dy="3.7">ol-L</tspan></text>
</g>
<g id="pf">
<line x1="572.7" y1="387.3" x2="572.7" y2="555.3" stroke="#000" stroke-width="1.7"/>
<line x1="571.9" y1="554.5" x2="685" y2="554.5" stroke="#000" stroke-width="1.7"/>
<line x1="567.0" y1="388.1" x2="572.7" y2="388.1" stroke="#000" stroke-width="1.7"/>
<text x="564.7" y="392.1" font-size="11" text-anchor="end">30</text>
<line x1="567.0" y1="443.5" x2="572.7" y2="443.5" stroke="#000" stroke-width="1.7"/>
<text x="564.7" y="447.5" font-size="11" text-anchor="end">20</text>
<line x1="567.0" y1="499.0" x2="572.7" y2="499.0" stroke="#000" stroke-width="1.7"/>
<text x="564.7" y="503.0" font-size="11" text-anchor="end">10</text>
<line x1="567.0" y1="554.5" x2="572.7" y2="554.5" stroke="#000" stroke-width="1.7"/>
<text x="564.7" y="558.5" font-size="11" text-anchor="end">0</text>
<text transform="translate(547.8,464.9) rotate(-90)" font-size="12.0" text-anchor="middle" textLength="127.5" lengthAdjust="spacingAndGlyphs">LTR-1C-Luc (Fold change)</text>
<line x1="595.0" y1="554.5" x2="595.0" y2="559.6" stroke="#000" stroke-width="1.7"/>
<line x1="628.7" y1="554.5" x2="628.7" y2="559.6" stroke="#000" stroke-width="1.7"/>
<line x1="662.2" y1="554.5" x2="662.2" y2="559.6" stroke="#000" stroke-width="1.7"/>
<rect x="583.6" y="547.6" width="22.1" height="6.9" fill="#000"/>
<rect x="617.1" y="462.8" width="22.3" height="91.7" fill="#a6f5a6"/>
<rect x="650.6" y="438.0" width="22.3" height="116.5" fill="#38996a"/>
<line x1="628.5" y1="433.6" x2="628.5" y2="491.7" stroke="#1e1e1e" stroke-width="1.0"/><line x1="622.5" y1="433.6" x2="634.5" y2="433.6" stroke="#1e1e1e" stroke-width="1.1"/><line x1="622.5" y1="491.7" x2="634.5" y2="491.7" stroke="#1e1e1e" stroke-width="1.1"/>
<line x1="661.6" y1="401.5" x2="661.6" y2="475.2" stroke="#1e1e1e" stroke-width="1.0"/><line x1="655.6" y1="401.5" x2="667.6" y2="401.5" stroke="#1e1e1e" stroke-width="1.1"/><line x1="655.6" y1="475.2" x2="667.6" y2="475.2" stroke="#1e1e1e" stroke-width="1.1"/>
<circle cx="628.5" cy="423.4" r="2.15" fill="#000"/>
<circle cx="628.5" cy="446.8" r="2.15" fill="#000"/>
<circle cx="624.1" cy="458.2" r="2.15" fill="#000"/>
<circle cx="632.4" cy="457.1" r="2.15" fill="#000"/>
<circle cx="628.5" cy="486.2" r="2.15" fill="#000"/>
<circle cx="628.5" cy="504.8" r="2.15" fill="#000"/>
<circle cx="661.6" cy="390.3" r="2.15" fill="#000"/>
<circle cx="661.6" cy="410.2" r="2.15" fill="#000"/>
<circle cx="661.6" cy="439.1" r="2.15" fill="#000"/>
<circle cx="661.6" cy="443.5" r="2.15" fill="#000"/>
<circle cx="661.6" cy="447.9" r="2.15" fill="#000"/>
<circle cx="661.6" cy="497.8" r="2.15" fill="#000"/>
<circle cx="585.8" cy="548.5" r="2.15" fill="#000"/>
<circle cx="589.3499999999999" cy="548.5" r="2.15" fill="#000"/>
<circle cx="592.9" cy="548.5" r="2.15" fill="#000"/>
<circle cx="596.4499999999999" cy="548.5" r="2.15" fill="#000"/>
<circle cx="600.0" cy="548.5" r="2.15" fill="#000"/>
<circle cx="603.55" cy="548.5" r="2.15" fill="#000"/>
<line x1="597.6" y1="392.0" x2="630.1" y2="392.0" stroke="#000" stroke-width="2.0"/><line x1="597.6" y1="387.7" x2="597.6" y2="396.3" stroke="#000" stroke-width="2.0"/><line x1="630.1" y1="387.7" x2="630.1" y2="396.3" stroke="#000" stroke-width="2.0"/>
<line x1="597.6" y1="371.0" x2="665.0" y2="371.0" stroke="#000" stroke-width="2.0"/><line x1="597.6" y1="366.7" x2="597.6" y2="375.3" stroke="#000" stroke-width="2.0"/><line x1="665.0" y1="366.7" x2="665.0" y2="375.3" stroke="#000" stroke-width="2.0"/>
<line x1="628.9" y1="346.5" x2="665.0" y2="346.5" stroke="#000" stroke-width="2.0"/><line x1="628.9" y1="342.2" x2="628.9" y2="350.8" stroke="#000" stroke-width="2.0"/><line x1="665.0" y1="342.2" x2="665.0" y2="350.8" stroke="#000" stroke-width="2.0"/>
<text x="614.0" y="385.2" font-size="11" text-anchor="middle">0.039</text>
<text x="631.2" y="364.0" font-size="11" text-anchor="middle">0.016</text>
<text x="646.7" y="339.7" font-size="11" text-anchor="middle">ns</text>
<text transform="translate(599.2,562.0) rotate(-90)" font-size="11.1" text-anchor="end">NF-κB-Luc</text>
<text transform="translate(632.9,562.0) rotate(-90)" font-size="11.1" text-anchor="end">HTLV-1A</text>
<text transform="translate(666.6,562.0) rotate(-90)" font-size="11.0" text-anchor="end">HTLV-1A/C<tspan font-size="8.7" font-style="italic" dy="4.0">ol-L</tspan></text>
</g>
<g id="pg">
<line x1="39.4" y1="690.5" x2="39.4" y2="801.0" stroke="#000" stroke-width="1.6"/>
<line x1="39.4" y1="809.2" x2="39.4" y2="837.0" stroke="#000" stroke-width="1.6"/>
<line x1="38.8" y1="836.4" x2="232.0" y2="836.4" stroke="#000" stroke-width="1.8"/>
<line x1="32.4" y1="691.2" x2="39.4" y2="691.2" stroke="#000" stroke-width="1.6"/>
<text x="31.3" y="694.1" font-size="8" text-anchor="end">2000</text>
<line x1="32.4" y1="722.5" x2="39.4" y2="722.5" stroke="#000" stroke-width="1.6"/>
<text x="31.3" y="725.4" font-size="8" text-anchor="end">1500</text>
<line x1="32.4" y1="753.7" x2="39.4" y2="753.7" stroke="#000" stroke-width="1.6"/>
<text x="31.3" y="756.6" font-size="8" text-anchor="end">1000</text>
<line x1="32.4" y1="785.2" x2="39.4" y2="785.2" stroke="#000" stroke-width="1.6"/>
<text x="31.3" y="788.1" font-size="8" text-anchor="end">500</text>
<line x1="35.9" y1="801.0" x2="42.6" y2="801.0" stroke="#000" stroke-width="1.6"/>
<line x1="34.2" y1="809.2" x2="42.6" y2="809.2" stroke="#000" stroke-width="1.6"/>
<text x="32.6" y="812.1" font-size="8" text-anchor="end">0</text>
<line x1="40" y1="809.2" x2="230.5" y2="809.2" stroke="#111" stroke-width="0.8" stroke-dasharray="1.1 1.1"/>
<line x1="63.1" y1="836.4" x2="63.1" y2="840.4" stroke="#000" stroke-width="1.3"/>
<text x="63.1" y="850.2" font-size="8" text-anchor="middle">1</text>
<line x1="99.0" y1="836.4" x2="99.0" y2="840.4" stroke="#000" stroke-width="1.3"/>
<text x="99.0" y="850.2" font-size="8" text-anchor="middle">2</text>
<line x1="135.2" y1="836.4" x2="135.2" y2="840.4" stroke="#000" stroke-width="1.3"/>
<text x="135.2" y="850.2" font-size="8" text-anchor="middle">3</text>
<line x1="171.1" y1="836.4" x2="171.1" y2="840.4" stroke="#000" stroke-width="1.3"/>
<text x="171.1" y="850.2" font-size="8" text-anchor="middle">4</text>
<line x1="207.2" y1="836.4" x2="207.2" y2="840.4" stroke="#000" stroke-width="1.3"/>
<text x="207.2" y="850.2" font-size="8" text-anchor="middle">8</text>
<text x="135.4" y="860.3" font-size="7.8" text-anchor="middle">Time post co-cultivation (Weeks)</text>
<text transform="translate(10.9,764.4) rotate(-90)" font-size="7.8" text-anchor="middle">p19 Gag (pg/ml) Human Cord Blood cells</text>
<path d="M63.1,710.45 L67.85,715.2 L63.1,719.95 L58.35,715.2 Z" fill="none" stroke="#a6f5a6" stroke-width="1.9" stroke-linejoin="miter"/>
<path d="M63.1,719.25 L67.85,724.0 L63.1,728.75 L58.35,724.0 Z" fill="none" stroke="#38996a" stroke-width="1.9" stroke-linejoin="miter"/>
<path d="M63.1,757.1 L68.0,762.0 L63.1,766.9 L58.2,762.0 Z" fill="#a6f5a6"/>
<path d="M63.1,784.5 L68.0,789.4 L63.1,794.3 L58.2,789.4 Z" fill="#38996a"/>
<path d="M63.1,814.95 L67.85,819.7 L63.1,824.45 L58.35,819.7 Z" fill="none" stroke="#000" stroke-width="1.9" stroke-linejoin="miter"/>
<path d="M63.1,824.1 L68.0,829.0 L63.1,833.9 L58.2,829.0 Z" fill="#000"/>
<path d="M99.0,712.55 L103.75,717.3 L99.0,722.05 L94.25,717.3 Z" fill="none" stroke="#a6f5a6" stroke-width="1.9" stroke-linejoin="miter"/>
<path d="M93.2,743.35 L97.95,748.1 L93.2,752.85 L88.45,748.1 Z" fill="none" stroke="#38996a" stroke-width="1.9" stroke-linejoin="miter"/>
<path d="M105.1,747.6 L110.0,752.5 L105.1,757.4 L100.2,752.5 Z" fill="#a6f5a6"/>
<path d="M99.2,755.5 L104.1,760.4 L99.2,765.3 L94.3,760.4 Z" fill="#38996a"/>
<path d="M93.2,820.9 L98.1,825.8 L93.2,830.7 L88.3,825.8 Z" fill="#000"/>
<path d="M105.1,815.85 L109.85,820.6 L105.1,825.35 L100.35,820.6 Z" fill="none" stroke="#000" stroke-width="1.9" stroke-linejoin="miter"/>
<path d="M135.2,717.55 L139.95,722.3 L135.2,727.05 L130.45,722.3 Z" fill="none" stroke="#a6f5a6" stroke-width="1.9" stroke-linejoin="miter"/>
<path d="M129.0,741.7 L133.9,746.6 L129.0,751.5 L124.1,746.6 Z" fill="#a6f5a6"/>
<path d="M141.3,743.4 L146.2,748.3 L141.3,753.2 L136.4,748.3 Z" fill="#38996a"/>
<path d="M135.2,766.45 L139.95,771.2 L135.2,775.95 L130.45,771.2 Z" fill="none" stroke="#38996a" stroke-width="1.9" stroke-linejoin="miter"/>
<path d="M135.2,815.85 L139.95,820.6 L135.2,825.35 L130.45,820.6 Z" fill="none" stroke="#000" stroke-width="1.9" stroke-linejoin="miter"/>
<path d="M135.2,825.1 L140.1,830.0 L135.2,834.9 L130.3,830.0 Z" fill="#000"/>
<path d="M171.1,700.45 L175.85,705.2 L171.1,709.95 L166.35,705.2 Z" fill="none" stroke="#a6f5a6" stroke-width="1.9" stroke-linejoin="miter"/>
<path d="M171.1,741.5 L176.0,746.4 L171.1,751.3 L166.2,746.4 Z" fill="#a6f5a6"/>
<path d="M171.1,748.7 L176.0,753.6 L171.1,758.5 L166.2,753.6 Z" fill="#38996a"/>
<path d="M171.1,763.45 L175.85,768.2 L171.1,772.95 L166.35,768.2 Z" fill="none" stroke="#38996a" stroke-width="1.9" stroke-linejoin="miter"/>
<path d="M171.1,815.85 L175.85,820.6 L171.1,825.35 L166.35,820.6 Z" fill="none" stroke="#000" stroke-width="1.9" stroke-linejoin="miter"/>
<path d="M171.1,825.1 L176.0,830.0 L171.1,834.9 L166.2,830.0 Z" fill="#000"/>
<path d="M207.2,703.25 L211.95,708.0 L207.2,712.75 L202.45,708.0 Z" fill="none" stroke="#a6f5a6" stroke-width="1.9" stroke-linejoin="miter"/>
<path d="M207.2,730.75 L211.95,735.5 L207.2,740.25 L202.45,735.5 Z" fill="none" stroke="#38996a" stroke-width="1.9" stroke-linejoin="miter"/>
<path d="M213.4,743.4 L218.3,748.3 L213.4,753.2 L208.5,748.3 Z" fill="#38996a"/>
<path d="M201.7,748.7 L206.6,753.6 L201.7,758.5 L196.8,753.6 Z" fill="#a6f5a6"/>
<path d="M207.2,812.05 L211.95,816.8 L207.2,821.55 L202.45,816.8 Z" fill="none" stroke="#000" stroke-width="1.9" stroke-linejoin="miter"/>
<path d="M207.2,820.8 L212.1,825.7 L207.2,830.6 L202.3,825.7 Z" fill="#000"/>
</g>
<g id="ph">
<line x1="296.4" y1="690.0" x2="296.4" y2="800.5" stroke="#000" stroke-width="1.3"/><line x1="296.4" y1="809.2" x2="296.4" y2="837.0" stroke="#000" stroke-width="1.3"/><line x1="295.79999999999995" y1="836.4" x2="442.2" y2="836.4" stroke="#000" stroke-width="1.6"/><line x1="291.4" y1="690.7" x2="296.4" y2="690.7" stroke="#000" stroke-width="1.3"/><text x="289.7" y="693.6" font-size="8" text-anchor="end">1500</text><line x1="291.4" y1="727.1" x2="296.4" y2="727.1" stroke="#000" stroke-width="1.3"/><text x="289.7" y="730.0" font-size="8" text-anchor="end">1250</text><line x1="291.4" y1="763.9" x2="296.4" y2="763.9" stroke="#000" stroke-width="1.3"/><text x="289.7" y="766.8" font-size="8" text-anchor="end">1000</text><line x1="293.29999999999995" y1="800.5" x2="299.4" y2="800.5" stroke="#000" stroke-width="1.3"/><text x="289.0" y="803.4" font-size="8" text-anchor="end">750</text><line x1="293.29999999999995" y1="809.2" x2="299.4" y2="809.2" stroke="#000" stroke-width="1.3"/><text x="290.2" y="812.1" font-size="8" text-anchor="end">750</text><line x1="292.0" y1="833.4" x2="296.4" y2="833.4" stroke="#000" stroke-width="1.3"/><text x="290.5" y="836.3" font-size="8" text-anchor="end">0</text><line x1="297.4" y1="833.4" x2="441.7" y2="833.4" stroke="#111" stroke-width="0.8" stroke-dasharray="1.1 1.1"/><line x1="325.7" y1="836.4" x2="325.7" y2="840.2" stroke="#000" stroke-width="1.3"/><text x="325.7" y="849.1" font-size="8" text-anchor="middle">4</text><line x1="369.4" y1="836.4" x2="369.4" y2="840.2" stroke="#000" stroke-width="1.3"/><text x="369.4" y="849.1" font-size="8" text-anchor="middle">8</text><line x1="414.0" y1="836.4" x2="414.0" y2="840.2" stroke="#000" stroke-width="1.3"/><text x="414.0" y="849.1" font-size="8" text-anchor="middle">12</text><text x="369.5" y="860.1" font-size="7.8" text-anchor="middle">Time post co-cultivation (Weeks)</text><text transform="translate(265.6,762.7) rotate(-90)" font-size="7.8" text-anchor="middle">p19 Gag (pg/ml) Human CD4<tspan font-size="5.5" dy="-3">+</tspan><tspan dy="3"> T-cells</tspan></text>
<path d="M321.5,721.66 L325.74,728.97 L317.26,728.97 Z" fill="#a6f5a6"/>
<circle cx="329.0" cy="719.9" r="3.85" fill="#38996a"/>
<rect x="332.27" y="714.97" width="7.469" height="7.469" fill="#a6f5a6"/>
<path d="M329.0,729.16 L333.24,736.47 L324.76,736.47 Z" fill="#38996a"/>
<rect x="321.27" y="751.87" width="7.469" height="7.469" fill="#38996a"/>
<rect x="354.67" y="720.37" width="7.469" height="7.469" fill="#38996a"/>
<path d="M363.6,722.86 L367.84,730.17 L359.37,730.17 Z" fill="#a6f5a6"/>
<circle cx="366.0" cy="728.0" r="3.85" fill="#a6f5a6"/>
<path d="M371.3,725.66 L375.54,732.97 L367.06,732.97 Z" fill="#38996a"/>
<circle cx="375.3" cy="726.2" r="3.85" fill="#a6f5a6"/>
<circle cx="380.0" cy="724.5" r="3.85" fill="#38996a"/>
<path d="M402.8,737.96 L407.04,745.27 L398.56,745.27 Z" fill="#a6f5a6"/>
<rect x="403.07" y="739.97" width="7.469" height="7.469" fill="#a6f5a6"/>
<rect x="407.27" y="738.57" width="7.469" height="7.469" fill="#38996a"/>
<circle cx="415.0" cy="743.0" r="3.85" fill="#38996a"/>
<path d="M419.6,738.46 L423.84,745.77 L415.37,745.77 Z" fill="#38996a"/>
<circle cx="424.3" cy="743.2" r="3.85" fill="#a6f5a6"/>
<rect x="311.27" y="831.87" width="7.469" height="7.469" fill="#000"/>
<rect x="313.27" y="831.87" width="7.469" height="7.469" fill="#000"/>
<circle cx="323.8" cy="835.6" r="3.85" fill="#000"/>
<path d="M329.6,831.56 L333.84,838.87 L325.37,838.87 Z" fill="#000"/>
<circle cx="336.2" cy="835.7" r="3.6" fill="#a6f5a6"/>
<rect x="361.27" y="831.87" width="7.469" height="7.469" fill="#000"/>
<rect x="363.27" y="831.87" width="7.469" height="7.469" fill="#000"/>
<circle cx="369.8" cy="835.6" r="3.85" fill="#000"/>
<path d="M372.3,831.56 L376.54,838.87 L368.06,838.87 Z" fill="#000"/>
<path d="M373.3,831.56 L377.54,838.87 L369.06,838.87 Z" fill="#000"/>
<rect x="404.77" y="831.87" width="7.469" height="7.469" fill="#000"/>
<rect x="406.77" y="831.87" width="7.469" height="7.469" fill="#000"/>
<circle cx="413.5" cy="835.6" r="3.85" fill="#000"/>
<path d="M416.3,831.56 L420.54,838.87 L412.06,838.87 Z" fill="#000"/>
</g>
<g id="pi">
<line x1="528.2" y1="690.0" x2="528.2" y2="800.5" stroke="#000" stroke-width="1.3"/><line x1="528.2" y1="809.2" x2="528.2" y2="837.0" stroke="#000" stroke-width="1.3"/><line x1="527.6" y1="836.4" x2="674.0" y2="836.4" stroke="#000" stroke-width="1.6"/><line x1="523.2" y1="690.7" x2="528.2" y2="690.7" stroke="#000" stroke-width="1.3"/><text x="521.5" y="693.6" font-size="8" text-anchor="end">1500</text><line x1="523.2" y1="727.1" x2="528.2" y2="727.1" stroke="#000" stroke-width="1.3"/><text x="521.5" y="730.0" font-size="8" text-anchor="end">1250</text><line x1="523.2" y1="763.9" x2="528.2" y2="763.9" stroke="#000" stroke-width="1.3"/><text x="521.5" y="766.8" font-size="8" text-anchor="end">1000</text><line x1="525.1" y1="800.5" x2="531.2" y2="800.5" stroke="#000" stroke-width="1.3"/><text x="520.8000000000001" y="803.4" font-size="8" text-anchor="end">750</text><line x1="525.1" y1="809.2" x2="531.2" y2="809.2" stroke="#000" stroke-width="1.3"/><text x="522.0" y="812.1" font-size="8" text-anchor="end">750</text><line x1="523.8000000000001" y1="833.4" x2="528.2" y2="833.4" stroke="#000" stroke-width="1.3"/><text x="522.3000000000001" y="836.3" font-size="8" text-anchor="end">0</text><line x1="529.2" y1="833.4" x2="673.5" y2="833.4" stroke="#111" stroke-width="0.8" stroke-dasharray="1.1 1.1"/><line x1="557.4" y1="836.4" x2="557.4" y2="840.2" stroke="#000" stroke-width="1.3"/><text x="557.4" y="849.1" font-size="8" text-anchor="middle">4</text><line x1="601.1" y1="836.4" x2="601.1" y2="840.2" stroke="#000" stroke-width="1.3"/><text x="601.1" y="849.1" font-size="8" text-anchor="middle">8</text><line x1="644.7" y1="836.4" x2="644.7" y2="840.2" stroke="#000" stroke-width="1.3"/><text x="644.7" y="849.1" font-size="8" text-anchor="middle">12</text><text x="601.6" y="860.1" font-size="7.8" text-anchor="middle">Time post co-cultivation (Weeks)</text><text transform="translate(497.6,762.5) rotate(-90)" font-size="7.8" text-anchor="middle">p19 Gag (pg/ml) Macaque CD4<tspan font-size="5.5" dy="-3">+</tspan><tspan dy="3"> T cells</tspan></text>
<circle cx="546.4" cy="717.5" r="3.7" fill="none" stroke="#a6f5a6" stroke-width="1.4"/>
<path d="M562.8,716.22 L566.87,723.25 L558.73,723.25 Z" fill="none" stroke="#a6f5a6" stroke-width="1.4" stroke-linejoin="miter"/>
<path d="M567.2,716.22 L571.27,723.25 L563.13,723.25 Z" fill="none" stroke="#a6f5a6" stroke-width="1.4" stroke-linejoin="miter"/>
<rect x="548.31" y="712.81" width="7.178" height="7.178" fill="none" stroke="#38996a" stroke-width="1.4"/>
<path d="M557.4,716.22 L561.47,723.25 L553.33,723.25 Z" fill="none" stroke="#38996a" stroke-width="1.4" stroke-linejoin="miter"/>
<circle cx="551.5" cy="725.8" r="3.7" fill="none" stroke="#38996a" stroke-width="1.4"/>
<circle cx="589.6" cy="724.1" r="3.7" fill="none" stroke="#a6f5a6" stroke-width="1.4"/>
<path d="M599.0,723.51 L603.07,730.54 L594.93,730.54 Z" fill="none" stroke="#a6f5a6" stroke-width="1.4" stroke-linejoin="miter"/>
<rect x="603.41" y="720.91" width="7.178" height="7.178" fill="none" stroke="#a6f5a6" stroke-width="1.4"/>
<path d="M612.8,721.32 L616.87,728.35 L608.73,728.35 Z" fill="none" stroke="#a6f5a6" stroke-width="1.4" stroke-linejoin="miter"/>
<circle cx="594.0" cy="724.5" r="3.7" fill="none" stroke="#38996a" stroke-width="1.4"/>
<path d="M599.0,724.12 L603.07,731.14 L594.93,731.14 Z" fill="none" stroke="#38996a" stroke-width="1.4" stroke-linejoin="miter"/>
<rect x="604.11" y="723.11" width="7.178" height="7.178" fill="none" stroke="#38996a" stroke-width="1.4"/>
<circle cx="634.0" cy="735.0" r="3.7" fill="none" stroke="#a6f5a6" stroke-width="1.4"/>
<rect x="634.11" y="736.91" width="7.178" height="7.178" fill="none" stroke="#a6f5a6" stroke-width="1.4"/>
<rect x="643.51" y="740.21" width="7.178" height="7.178" fill="none" stroke="#a6f5a6" stroke-width="1.4"/>
<path d="M642.1,736.62 L646.17,743.64 L638.03,743.64 Z" fill="none" stroke="#38996a" stroke-width="1.4" stroke-linejoin="miter"/>
<circle cx="651.5" cy="739.4" r="3.7" fill="none" stroke="#38996a" stroke-width="1.4"/>
<rect x="652.31" y="735.41" width="7.178" height="7.178" fill="none" stroke="#38996a" stroke-width="1.4"/>
<rect x="547.77" y="831.47" width="7.663" height="7.663" fill="none" stroke="#000" stroke-width="1.4"/>
<path d="M557.0,831.15 L561.35,838.66 L552.65,838.66 Z" fill="none" stroke="#000" stroke-width="1.4" stroke-linejoin="miter"/>
<circle cx="562.8" cy="835.3" r="3.95" fill="none" stroke="#000" stroke-width="1.4"/>
<rect x="592.17" y="831.47" width="7.663" height="7.663" fill="none" stroke="#000" stroke-width="1.4"/>
<path d="M600.5,831.15 L604.85,838.66 L596.15,838.66 Z" fill="none" stroke="#000" stroke-width="1.4" stroke-linejoin="miter"/>
<circle cx="604.9" cy="835.3" r="3.95" fill="none" stroke="#000" stroke-width="1.4"/>
<rect x="636.67" y="831.47" width="7.663" height="7.663" fill="none" stroke="#000" stroke-width="1.4"/>
<path d="M645.0,831.15 L649.35,838.66 L640.65,838.66 Z" fill="none" stroke="#000" stroke-width="1.4" stroke-linejoin="miter"/>
<circle cx="649.4" cy="835.3" r="3.95" fill="none" stroke="#000" stroke-width="1.4"/>
</g>
<rect x="288.6" y="907.2" width="21.6" height="13.8" fill="#000"/>
<rect x="288.6" y="932.1" width="21.6" height="14.3" fill="#a6f5a6"/>
<rect x="288.6" y="959.3" width="21.6" height="14.7" fill="#38996a"/>
<text x="321.8" y="918.0" font-size="12.7" font-weight="bold">Mock</text>
<text x="321.4" y="941.9" font-size="12.7" font-weight="bold">HTLV-1A</text>
<text x="321.4" y="969.1" font-size="12.7" font-weight="bold">HTLV-1A/C<tspan font-size="9" font-style="italic" dy="3.4">ol-L</tspan></text>
</svg></body></html>
